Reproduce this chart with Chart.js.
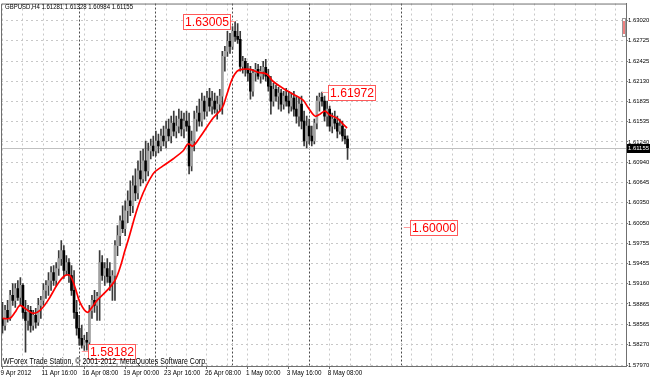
<!DOCTYPE html>
<html><head><meta charset="utf-8">
<script src="https://cdn.jsdelivr.net/npm/chart.js@4.4.1/dist/chart.umd.min.js"></script>
<style>html,body{margin:0;padding:0;background:#fff;}canvas{display:block;}</style>
</head><body>
<canvas id="c" width="650" height="378"></canvas>
<script>
const symbolTitle = 'GBPUSD,H4 1.61281 1.61328 1.60984 1.61155';
const copyrightText = 'WForex Trade Station, \u00a9 2001-2012, MetaQuotes Software Corp.';

const openP = [1.58654,1.58552,1.58771,1.58654,1.58990,1.58917,1.59092,1.58961,1.59136,1.58742,
 1.58625,1.58771,1.58552,1.58698,1.58596,1.58844,1.58917,1.59063,1.59136,1.59209,
 1.59326,1.59209,1.59384,1.59530,1.59647,1.59355,1.59472,1.59282,1.59063,1.58742,
 1.58509,1.58362,1.58260,1.58333,1.58304,1.58771,1.58917,1.58844,1.58976,1.59472,
 1.59282,1.59384,1.59267,1.59180,1.59282,1.59720,1.59866,1.60085,1.59968,1.60231,
 1.60377,1.60304,1.60596,1.60494,1.60815,1.60698,1.60961,1.60815,1.61107,1.61180,
 1.61107,1.61253,1.61180,1.61326,1.61253,1.61429,1.61326,1.61516,1.61399,1.61472,
 1.61574,1.61429,1.61545,1.61472,1.60888,1.61253,1.61574,1.61662,1.61545,1.61837,
 1.61691,1.61881,1.61764,1.61837,1.61720,1.61793,1.61910,1.62494,1.62567,1.62713,
 1.62640,1.62859,1.62786,1.62742,1.62348,1.62421,1.62304,1.62246,1.61983,1.62246,
 1.62304,1.62202,1.62275,1.62333,1.62202,1.62056,1.61837,1.62012,1.61910,1.61954,
 1.61793,1.61910,1.61837,1.61764,1.61881,1.61720,1.61618,1.61793,1.61545,1.61253,
 1.61472,1.61326,1.61253,1.61516,1.61837,1.61895,1.61837,1.61618,1.61720,1.61472,
 1.61574,1.61516,1.61399,1.61472,1.61326,1.61281];
const highP = [1.58888,1.58844,1.58917,1.59063,1.59165,1.59165,1.59209,1.59253,1.59165,1.58917,
 1.58844,1.58829,1.58771,1.58800,1.58946,1.58976,1.59165,1.59209,1.59326,1.59413,
 1.59428,1.59472,1.59647,1.59793,1.59720,1.59574,1.59530,1.59428,1.59355,1.58917,
 1.58698,1.58552,1.58406,1.58450,1.58844,1.58990,1.59063,1.59034,1.59647,1.59574,
 1.59472,1.59530,1.59472,1.59355,1.59793,1.60012,1.60158,1.60304,1.60377,1.60523,
 1.60669,1.60742,1.60844,1.60961,1.61107,1.61136,1.61253,1.61224,1.61282,1.61326,
 1.61399,1.61355,1.61429,1.61472,1.61545,1.61574,1.61618,1.61691,1.61618,1.61720,
 1.61691,1.61662,1.61691,1.61662,1.61399,1.61691,1.61764,1.61866,1.61954,1.61910,
 1.61983,1.62027,1.61983,1.61954,1.61910,1.62012,1.62567,1.62640,1.62859,1.62830,
 1.62932,1.63005,1.62976,1.62859,1.62494,1.62465,1.62392,1.62348,1.62304,1.62392,
 1.62377,1.62348,1.62421,1.62450,1.62304,1.62202,1.62100,1.62071,1.62041,1.62012,
 1.61983,1.62027,1.61983,1.61954,1.61983,1.61910,1.61881,1.61910,1.61691,1.61618,
 1.61574,1.61472,1.61574,1.61910,1.61954,1.61972,1.61910,1.61837,1.61764,1.61662,
 1.61691,1.61618,1.61574,1.61545,1.61429,1.61328];
const lowP = [1.58435,1.58479,1.58596,1.58625,1.58844,1.58815,1.58917,1.58844,1.58654,1.58158,
 1.58479,1.58450,1.58479,1.58509,1.58552,1.58654,1.58844,1.58946,1.58990,1.59063,
 1.59136,1.59121,1.59282,1.59428,1.59238,1.59282,1.59180,1.58990,1.58654,1.58406,
 1.58260,1.58216,1.58182,1.58187,1.58260,1.58654,1.58742,1.58625,1.58625,1.59209,
 1.59136,1.59180,1.59063,1.58917,1.58917,1.59574,1.59720,1.59909,1.59866,1.60056,
 1.60158,1.60202,1.60377,1.60406,1.60596,1.60640,1.60669,1.60742,1.60991,1.61034,
 1.61034,1.61078,1.61107,1.61180,1.61151,1.61253,1.61224,1.61326,1.61297,1.61370,
 1.61326,1.61297,1.61399,1.60771,1.60815,1.61107,1.61399,1.61472,1.61472,1.61574,
 1.61618,1.61691,1.61647,1.61662,1.61574,1.61691,1.61647,1.62275,1.62494,1.62538,
 1.62596,1.62713,1.62684,1.62275,1.62246,1.62202,1.62129,1.61866,1.61910,1.62129,
 1.62158,1.62100,1.62158,1.62129,1.61983,1.61647,1.61764,1.61837,1.61720,1.61691,
 1.61720,1.61764,1.61662,1.61691,1.61618,1.61516,1.61472,1.61429,1.61180,1.61151,
 1.61209,1.61180,1.61209,1.61429,1.61691,1.61764,1.61545,1.61472,1.61399,1.61370,
 1.61429,1.61297,1.61355,1.61253,1.61209,1.60984];
const closeP = [1.58552,1.58771,1.58654,1.58990,1.58917,1.59092,1.58961,1.59136,1.58742,1.58625,
 1.58771,1.58552,1.58698,1.58596,1.58844,1.58917,1.59063,1.59136,1.59209,1.59326,
 1.59209,1.59384,1.59530,1.59647,1.59355,1.59472,1.59282,1.59063,1.58742,1.58509,
 1.58362,1.58260,1.58333,1.58304,1.58771,1.58917,1.58844,1.58976,1.59472,1.59282,
 1.59384,1.59267,1.59180,1.59282,1.59720,1.59866,1.60085,1.59968,1.60231,1.60377,
 1.60304,1.60596,1.60494,1.60815,1.60698,1.60961,1.60815,1.61107,1.61180,1.61107,
 1.61253,1.61180,1.61326,1.61253,1.61429,1.61326,1.61516,1.61399,1.61472,1.61574,
 1.61429,1.61545,1.61472,1.60888,1.61253,1.61574,1.61662,1.61545,1.61837,1.61691,
 1.61881,1.61764,1.61837,1.61720,1.61793,1.61910,1.62494,1.62567,1.62713,1.62640,
 1.62859,1.62786,1.62742,1.62348,1.62421,1.62304,1.62246,1.61983,1.62246,1.62304,
 1.62202,1.62275,1.62333,1.62202,1.62056,1.61837,1.62012,1.61910,1.61954,1.61793,
 1.61910,1.61837,1.61764,1.61881,1.61720,1.61618,1.61793,1.61545,1.61253,1.61472,
 1.61326,1.61253,1.61516,1.61837,1.61895,1.61837,1.61618,1.61720,1.61472,1.61574,
 1.61516,1.61399,1.61472,1.61326,1.61282,1.61155];

const maBars = [0,2.9,4.9,6.8,8.8,11.9,14.7,17.8,21.7,24.5,26.4,28.4,30.3,33.1,35,37,40.9,44,46,47.9,
 49.1,53.8,58.9,62.8,66.7,70.6,72.6,74.5,77.3,82.4,85.9,87.8,89.8,91.7,93.7,96.8,100,103.5,105.8,109.7,
 113.7,117.6,119.5,122.3,124.2,126.2,128.1,130.9,133.2,134.8];
const maValues = [1.58654,1.58654,1.58742,1.58844,1.58800,1.58727,1.58771,1.58917,1.59165,1.59282,
 1.59282,1.59107,1.58888,1.58742,1.58815,1.58917,1.59063,1.59209,1.59399,1.59647,
 1.59793,1.60377,1.60771,1.60888,1.60990,1.61107,1.61209,1.61180,1.61311,1.61589,
 1.61735,1.61939,1.62158,1.62275,1.62304,1.62304,1.62260,1.62231,1.62129,1.62027,
 1.61939,1.61852,1.61749,1.61618,1.61647,1.61691,1.61633,1.61589,1.61501,1.61443];

const yTickLabels = ['1.57970','1.58270','1.58565','1.58865','1.59160','1.59455','1.59755','1.60050','1.60350',
 '1.60645','1.60940','1.61240','1.61535','1.61835','1.62130','1.62425','1.62725','1.63020'];
const xLabelBars = [0,16,32,48,64,80,96,112,128];
const xLabels = ['9 Apr 2012','11 Apr 16:00','16 Apr 08:00','19 Apr 00:00','23 Apr 16:00','26 Apr 08:00','1 May 00:00','3 May 16:00','8 May 08:00'];
const weekSeparatorBars = [30,60,90,120,156];
const gridStepBars = 8;
const labelPrices = [1.63005, 1.61972, 1.58182, 1.60000];
const labelBars = [91, 125, 31, 157];
const labelSides = [-1, 1, 1, 1];
const currentPrice = 1.61155;

const sepSet = new Set(weekSeparatorBars);
const xTickBars = [];
for (let b = 0; b <= 240; b += gridStepBars) if (!sepSet.has(b)) xTickBars.push(b);
weekSeparatorBars.forEach(b => xTickBars.push(b));
xTickBars.sort((a, b) => a - b);

const FONT = "'Liberation Sans',Arial,sans-serif";

const wickData = openP.map((o, i) => ({x: i, y: [lowP[i], highP[i]]}));
const bodyData = openP.map((o, i) => ({x: i, y: [o, closeP[i]]}));
const bodyColors = openP.map((o, i) => closeP[i] >= o ? '#a2a2a2' : '#000000');
const maData = maBars.map((b, i) => ({x: b, y: maValues[i]}));

const extras = {
  id: 'extras',
  beforeDatasetsDraw(chart) {
    const {ctx, chartArea: a, scales: {y}} = chart;
    const py = Math.round(y.getPixelForValue(currentPrice)) + 0.5;
    ctx.save();
    ctx.strokeStyle = '#c0c0c0'; ctx.lineWidth = 1;
    ctx.beginPath(); ctx.moveTo(a.left, py); ctx.lineTo(a.right, py); ctx.stroke();
    ctx.restore();
  },
  afterDraw(chart) {
    const {ctx, chartArea: a, scales: {x, y}} = chart;
    ctx.save();
    ctx.strokeStyle = '#707070'; ctx.lineWidth = 1;
    ctx.beginPath();
    ctx.moveTo(a.left + 0.5, a.bottom); ctx.lineTo(a.left + 0.5, a.top + 0.5); ctx.lineTo(a.right, a.top + 0.5);
    ctx.stroke();
    labelPrices.forEach((v, i) => {
      const ax = x.getPixelForValue(labelBars[i]);
      const ay = Math.round(y.getPixelForValue(v)) + 0.5;
      const w = 47, h = 15;
      const bx = Math.round(labelSides[i] < 0 ? ax - 5 - w : ax + 6);
      const cx = labelSides[i] < 0 ? bx + w : bx;
      ctx.strokeStyle = '#ff9c9c'; ctx.lineWidth = 1;
      ctx.beginPath(); ctx.moveTo(ax, ay); ctx.lineTo(cx, ay); ctx.stroke();
      ctx.fillStyle = '#ffffff';
      ctx.fillRect(bx, Math.round(ay - h / 2), w, h);
      ctx.strokeStyle = '#ff5a5a';
      ctx.strokeRect(bx + 0.5, Math.round(ay - h / 2) + 0.5, w, h);
      ctx.fillStyle = '#ff0000';
      ctx.font = "12.5px 'Liberation Sans',Arial,sans-serif";
      ctx.textAlign = 'center'; ctx.textBaseline = 'middle';
      ctx.fillText(v.toFixed(5), bx + w / 2 + 0.5, ay + 1, w - 3);
    });
    ctx.fillStyle = '#000';
    ctx.textAlign = 'left'; ctx.textBaseline = 'middle';
    ctx.font = '6.8px ' + FONT;
    ctx.fillText(symbolTitle, 5, 6.8, 128);
    ctx.font = '8.2px ' + FONT;
    ctx.textBaseline = 'alphabetic';
    ctx.fillText(copyrightText, 3, 363.5, 204);
    const cy = Math.round(y.getPixelForValue(currentPrice));
    ctx.fillStyle = '#000';
    ctx.fillRect(a.right + 1, cy - 4, 650 - a.right - 1, 9);
    ctx.fillStyle = '#fff';
    ctx.font = '6px ' + FONT;
    ctx.textBaseline = 'middle';
    ctx.fillText(currentPrice.toFixed(5), a.right + 2, cy + 0.5, 21);
    ctx.strokeStyle = '#9a9a9a';
    ctx.strokeRect(a.right - 3.5, 18.5, 3, 18);
    ctx.strokeStyle = '#e00000';
    ctx.beginPath(); ctx.moveTo(a.right - 2, 21); ctx.lineTo(a.right - 2, 34); ctx.stroke();
    ctx.restore();
  }
};

new Chart(document.getElementById('c'), {
  type: 'bar',
  data: {
    datasets: [
      {type: 'line', data: maData, borderColor: '#ff0000', borderWidth: 1.7, pointRadius: 0, tension: 0.35, order: 0},
      {data: bodyData, backgroundColor: bodyColors, barThickness: 2, minBarLength: 1, grouped: false, borderWidth: 0, order: 1},
      {data: wickData, backgroundColor: '#3a3a3a', barThickness: 1, grouped: false, borderWidth: 0, order: 2}
    ]
  },
  options: {
    responsive: false, animation: false, devicePixelRatio: 1, events: [],
    layout: {padding: {left: 1, top: 2, right: 0, bottom: 0}},
    plugins: {legend: {display: false}, tooltip: {enabled: false}},
    scales: {
      x: {
        type: 'linear', offset: false, min: -0.587, max: 243.936,
        afterBuildTicks: s => { s.ticks = xTickBars.map(v => ({value: v})); },
        afterFit: s => { s.height = 12; },
        grid: {
          offset: false, lineWidth: 1, tickLength: 3,
          color: c => (c.tick && sepSet.has(c.tick.value)) ? '#4a4a4a' : '#c8c8c8',
          tickColor: c => (c.tick && xLabelBars.includes(c.tick.value)) ? '#707070' : 'rgba(0,0,0,0)'
        },
        border: {display: true, color: '#707070', dash: c => (c.tick && sepSet.has(c.tick.value)) ? [2, 2] : [2, 3]},
        ticks: {
          autoSkip: false, maxRotation: 0, align: 'start', padding: 0, labelOffset: -2,
          color: '#000', font: {size: 6.3, family: FONT},
          callback: v => { const k = xLabelBars.indexOf(v); return k >= 0 ? xLabels[k] : ''; }
        }
      },
      y: {
        type: 'linear', position: 'right', min: 1.579554, max: 1.632681,
        afterBuildTicks: s => { s.ticks = yTickLabels.map(t => ({value: parseFloat(t)})); },
        afterFit: s => { s.width = 24; },
        grid: {color: '#c8c8c8', lineWidth: 1, tickLength: 2, tickColor: '#808080'},
        border: {display: true, color: '#707070', dash: [2, 3]},
        ticks: {
          autoSkip: false, padding: 0, color: '#000', font: {size: 5.9, family: FONT},
          callback: (v, i) => yTickLabels[i]
        }
      }
    }
  },
  plugins: [extras]
});
</script>
</body></html>
